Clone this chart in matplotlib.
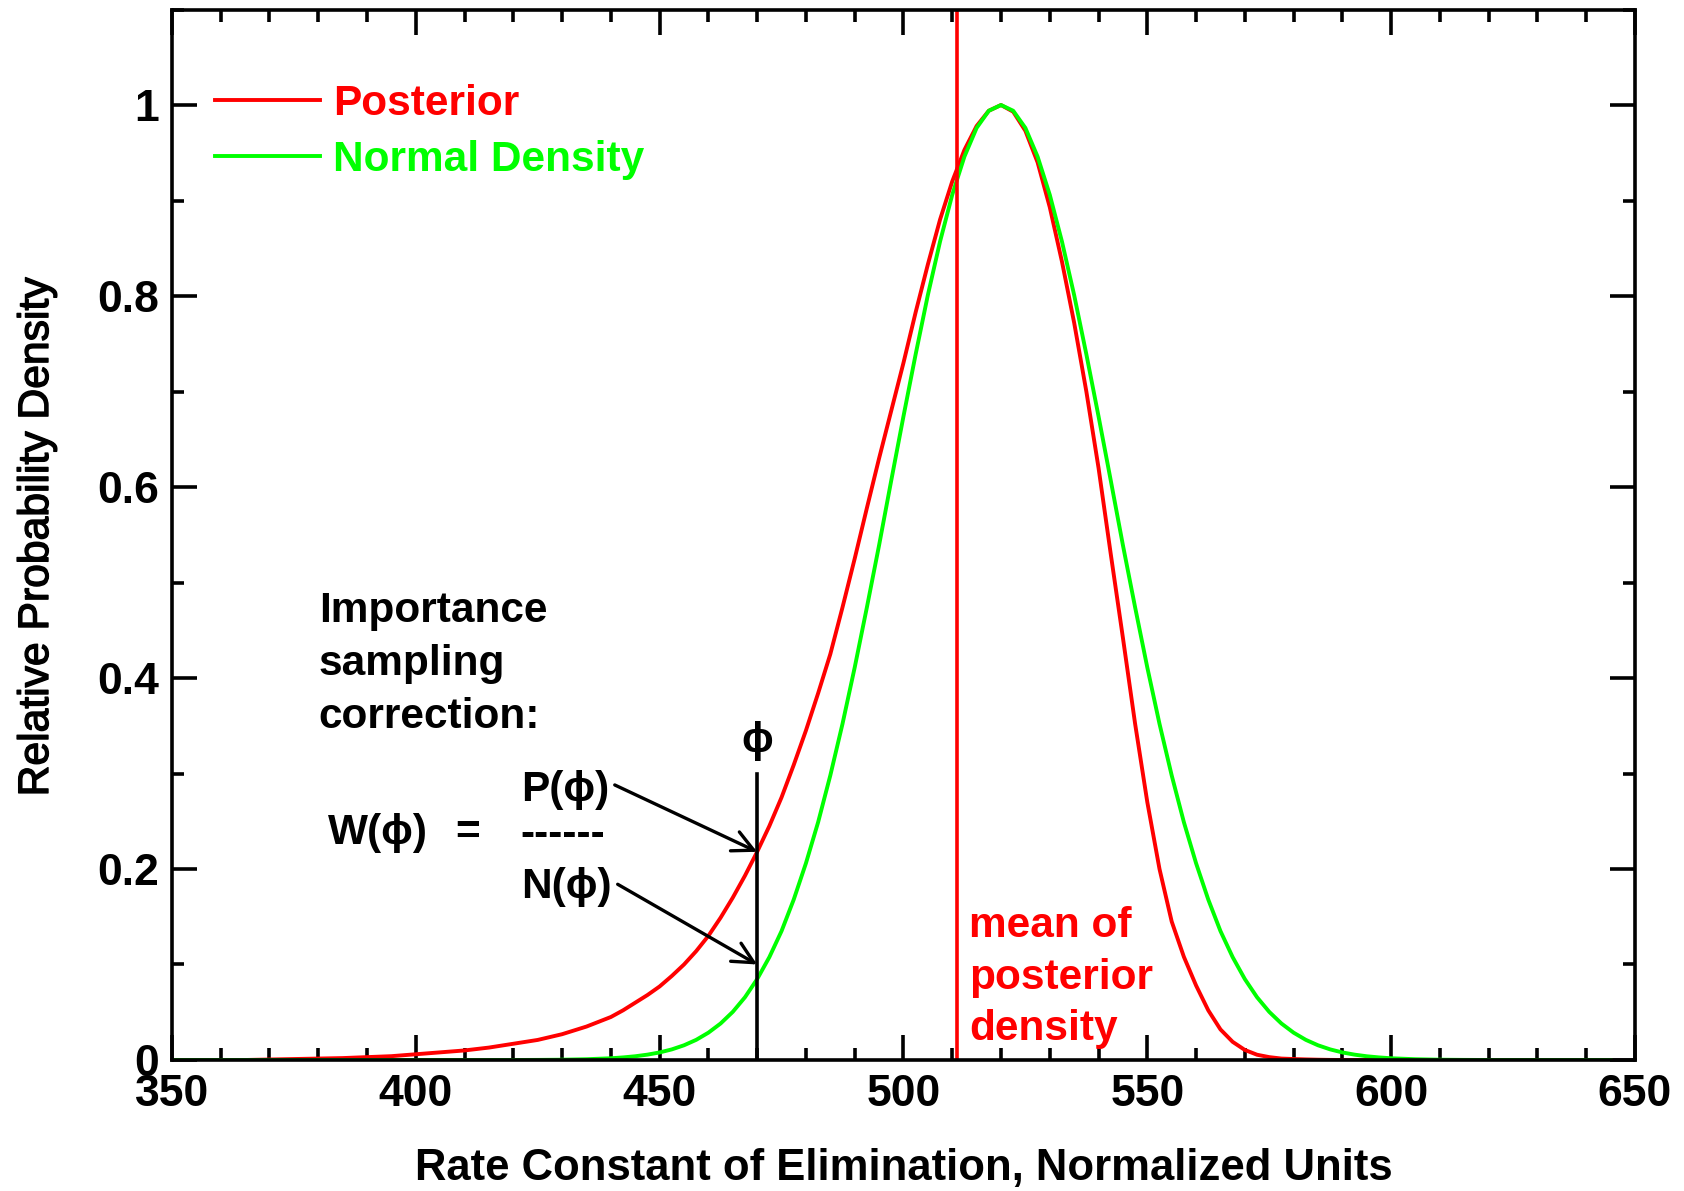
import matplotlib
matplotlib.use("Agg")
import matplotlib.pyplot as plt
import matplotlib.patheffects as pe
from matplotlib.ticker import MultipleLocator, FuncFormatter

plt.rcParams['font.family'] = ['Liberation Sans', 'DejaVu Sans']
plt.rcParams['font.weight'] = 'bold'

# rate constant grid: 5-unit steps in the tails, 2.5 around the peak
rate = [350, 355, 360, 365, 370, 375, 380, 385, 390, 395,
        400, 405, 410, 415, 420, 425, 430, 435, 440,
        442.5, 445, 447.5, 450, 452.5, 455, 457.5, 460, 462.5, 465,
        467.5, 470, 472.5, 475, 477.5, 480, 482.5, 485, 487.5, 490,
        492.5, 495, 497.5, 500, 502.5, 505, 507.5, 510, 512.5, 515,
        517.5, 520, 522.5, 525, 527.5, 530, 532.5, 535, 537.5, 540,
        542.5, 545, 547.5, 550, 552.5, 555, 557.5, 560, 562.5, 565,
        567.5, 570, 572.5, 575, 577.5, 580, 582.5, 585, 587.5, 590,
        592.5, 595, 597.5, 600,
        605, 610, 615, 620, 625, 630, 635, 640, 645]

posterior = [0.0, 0.0, 0.0, 0.0, 0.0005, 0.001, 0.0015, 0.002, 0.003, 0.004,
             0.006, 0.008, 0.010, 0.013, 0.017, 0.021, 0.027, 0.035, 0.045,
             0.052, 0.060, 0.068, 0.077, 0.088, 0.100, 0.114, 0.130, 0.149, 0.170,
             0.193, 0.218, 0.245, 0.275, 0.309, 0.345, 0.384, 0.425, 0.474, 0.525,
             0.578, 0.630, 0.680, 0.730, 0.783, 0.833, 0.880, 0.920, 0.953, 0.978,
             0.994, 1.000, 0.993, 0.973, 0.940, 0.893, 0.836, 0.772, 0.700, 0.620,
             0.530, 0.442, 0.352, 0.270, 0.200, 0.145, 0.108, 0.078, 0.052, 0.032,
             0.019, 0.0105, 0.0055, 0.003, 0.0015, 0.001, 0.0006, 0.0003, 0.0001, 0.0,
             0.0, 0.0, 0.0, 0.0,
             0.0, 0.0, 0.0, 0.0, 0.0, 0.0, 0.0, 0.0, 0.0]

normal_density = [0.0, 0.0, 0.0, 0.0, 0.0, 0.0, 0.0, 0.0, 0.0, 0.0,
                  0.0, 0.0, 0.0, 0.0, 0.0, 0.0001, 0.0003, 0.0008, 0.0018,
                  0.0027, 0.0039, 0.0056, 0.0079, 0.0111, 0.0154, 0.0211, 0.0286, 0.0382, 0.0504,
                  0.0657, 0.0847, 0.1077, 0.135, 0.168, 0.206, 0.249, 0.298, 0.352, 0.411,
                  0.474, 0.539, 0.607, 0.674, 0.739, 0.801, 0.857, 0.906, 0.946, 0.976,
                  0.994, 1.000, 0.994, 0.976, 0.946, 0.906, 0.857, 0.801, 0.739, 0.674,
                  0.607, 0.539, 0.474, 0.411, 0.352, 0.298, 0.249, 0.206, 0.168, 0.135,
                  0.1077, 0.0847, 0.0657, 0.0504, 0.0382, 0.0286, 0.0211, 0.0154, 0.0111, 0.0079,
                  0.0056, 0.0039, 0.0027, 0.0018,
                  0.0008, 0.0003, 0.0001, 0.0, 0.0, 0.0, 0.0, 0.0, 0.0]

posterior_mean = 511
phi = 470
p_phi = 0.218
n_phi = 0.10

note_lines = ['Importance', 'sampling', 'correction:']
mean_lines = ['mean of', 'posterior', 'density']

RED = '#ff0000'
GREEN = '#00ff00'
LW = 2.8
FS = 30.5

fig = plt.figure(figsize=(16.84, 11.91), dpi=100)
ax = fig.add_axes([0.1021, 0.1100, 0.8688, 0.882])

ax.plot(rate, posterior, color=RED, lw=LW, label='Posterior')
ax.plot(rate, normal_density, color=GREEN, lw=LW, label='Normal Density')
ax.axvline(posterior_mean, color=RED, lw=2.6)

# sampled point phi
ax.plot([phi, phi], [0, 0.30], color='black', lw=2.6)
ax.text(phi, 0.334, '\u03d5', fontsize=FS, ha='center', va='center')

for i, s in enumerate(note_lines):
    ax.text(380.1, 0.470 - i * 0.0555, s, fontsize=FS, ha='left', va='center')

ax.text(381.9, 0.238, 'W(\u03d5)', fontsize=FS, ha='left', va='center')
ax.text(410.7, 0.238, '=', fontsize=FS, ha='center', va='center')
ax.text(421.5, 0.283, 'P(\u03d5)', fontsize=FS, ha='left', va='center')
ax.text(421.5, 0.236, '------', fontsize=FS, ha='left', va='center')
ax.text(421.5, 0.181, 'N(\u03d5)', fontsize=FS, ha='left', va='center')

arrow = dict(arrowstyle='->, head_length=0.6, head_width=0.3', lw=2.4,
             color='black', mutation_scale=25, shrinkA=0, shrinkB=0)
ax.annotate('', xy=(phi, p_phi), xytext=(440.8, 0.288), arrowprops=arrow)
ax.annotate('', xy=(phi, n_phi), xytext=(441.4, 0.184), arrowprops=arrow)

for i, s in enumerate(mean_lines):
    ax.text(513.4, 0.140 - i * 0.054, s, fontsize=FS, color=RED,
            ha='left', va='center')

leg = ax.legend(loc='center left', bbox_to_anchor=(0.0294, 0.8835),
                frameon=False, prop={'size': FS, 'weight': 'bold'},
                labelcolor='linecolor', handlelength=2.47, handletextpad=0.31,
                labelspacing=0.36, borderaxespad=0, borderpad=0)

ax.set_xlim(350, 650)
ax.set_ylim(0, 1.1)
ax.xaxis.set_major_locator(MultipleLocator(50))
ax.xaxis.set_minor_locator(MultipleLocator(10))
ax.yaxis.set_major_locator(MultipleLocator(0.2))
ax.yaxis.set_minor_locator(MultipleLocator(0.1))
ax.yaxis.set_major_formatter(FuncFormatter(lambda v, _: f'{v:g}'))
ax.tick_params(which='both', direction='in', top=True, right=True,
               width=2.6, labelsize=32)
ax.tick_params(which='major', length=18)
ax.tick_params(which='minor', length=8.6)
ax.tick_params(axis='x', pad=10)
ax.tick_params(axis='y', pad=9)
for sp in ax.spines.values():
    sp.set_linewidth(2.6)

fig.text(0.5365, 0.0189, 'Rate Constant of Elimination, Normalized Units',
         fontsize=31.4, ha='center', va='center')
fig.text(37 / 1684, 0.549, 'Relative Probability Density', fontsize=30.7,
         fontweight='normal', rotation=90, ha='center', va='center',
         path_effects=[pe.withStroke(linewidth=1.0, foreground='black')])

fig.savefig('out.png', dpi=100)
